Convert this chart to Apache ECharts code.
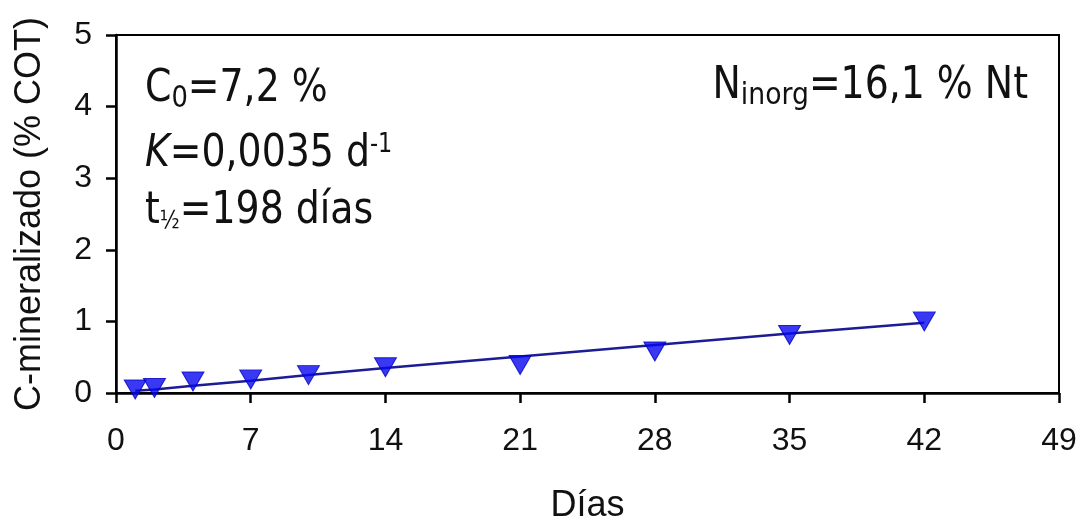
<!DOCTYPE html>
<html>
<head>
<meta charset="utf-8">
<script src="https://cdn.jsdelivr.net/npm/echarts@6/dist/echarts.min.js"></script>
<style>html,body{margin:0;padding:0;background:#fff}#c{width:1081px;height:517px}</style>
</head>
<body>
<div id="c"></div>
<script>
// Data
const days = [1, 2, 4, 7, 10, 14, 21, 28, 35, 42];
const cMineralized = [0.05, 0.07, 0.16, 0.19, 0.25, 0.36, 0.39, 0.58, 0.81, 1.00];
const fitDays = [1, 2, 4, 7, 10, 14, 21, 28, 35, 42];
const fitValues = [0.03, 0.05, 0.10, 0.17, 0.25, 0.35, 0.51, 0.67, 0.83, 0.98];
const xTicks = [0, 7, 14, 21, 28, 35, 42, 49];
const yTicks = [0, 1, 2, 3, 4, 5];

const chart = echarts.init(document.getElementById('c'));
const axisFont = 'Liberation Sans, Arial, sans-serif';
const annFont = 'DejaVu Sans, sans-serif';
const annSize = 44;
const annScaleX = 0.86;

chart.setOption({
  animation: false,
  backgroundColor: '#fff',
  grid: {
    left: 116, right: 22, top: 35, bottom: 124,
    containLabel: false, outerBoundsMode: 'none',
    show: true, borderColor: '#000', borderWidth: 2, backgroundColor: 'transparent'
  },
  xAxis: {
    type: 'value', min: xTicks[0], max: xTicks[xTicks.length - 1], interval: 7,
    name: 'Días', nameLocation: 'middle', nameGap: 95,
    nameTextStyle: { fontFamily: axisFont, fontSize: 36, color: '#111' },
    axisLine: { show: true, lineStyle: { color: '#000', width: 2.5 } },
    axisTick: { show: true, length: 10, inside: false, lineStyle: { color: '#000', width: 2.5 } },
    axisLabel: { margin: 32, fontFamily: axisFont, fontSize: 32, color: '#111' },
    splitLine: { show: false }
  },
  yAxis: {
    type: 'value', min: yTicks[0], max: yTicks[yTicks.length - 1], interval: 1,
    name: 'C-mineralizado (% COT)', nameLocation: 'middle', nameGap: 68,
    nameTextStyle: { fontFamily: axisFont, fontSize: 36, color: '#111' },
    axisLine: { show: true, lineStyle: { color: '#000', width: 2.5 } },
    axisTick: { show: true, length: 10, inside: false, lineStyle: { color: '#000', width: 2.5 } },
    axisLabel: { margin: 24, fontFamily: axisFont, fontSize: 32, color: '#111' },
    splitLine: { show: false }
  },
  series: [
    {
      type: 'line', data: fitDays.map((d, i) => [d, fitValues[i]]),
      showSymbol: false, symbol: 'none',
      lineStyle: { color: '#1c1c95', width: 2.5 }, z: 2
    },
    {
      type: 'scatter', data: days.map((d, i) => [d, cMineralized[i]]),
      symbol: 'triangle', symbolRotate: 180, symbolSize: [22, 19],
      itemStyle: { color: '#0808f0', borderColor: '#0000c0', borderWidth: 1 }, z: 3
    }
  ],
  graphic: [
    {
      type: 'text', x: 145, y: 66, scaleX: annScaleX,
      style: {
        text: '{n|C}{s|0}{n|=7,2 %}',
        rich: {
          n: { fontFamily: annFont, fontSize: annSize, fill: '#111' },
          s: { fontFamily: annFont, fontSize: 30, fill: '#111', verticalAlign: 'bottom', padding: [18, 0, 0, 0] }
        }
      }
    },
    {
      type: 'text', x: 145, y: 132, scaleX: annScaleX,
      style: {
        text: '{i|K}{n|=0,0035 d}{p|-1}',
        rich: {
          i: { fontFamily: annFont, fontSize: annSize, fontStyle: 'italic', fill: '#111' },
          n: { fontFamily: annFont, fontSize: annSize, fill: '#111' },
          p: { fontFamily: annFont, fontSize: 26, fill: '#111', verticalAlign: 'top', padding: [0, 0, 20, 0] }
        }
      }
    },
    {
      type: 'text', x: 145, y: 190, scaleX: annScaleX,
      style: {
        text: '{n|t}{s|½}{n|=198 días}',
        rich: {
          n: { fontFamily: annFont, fontSize: annSize, fill: '#111' },
          s: { fontFamily: annFont, fontSize: 24, fill: '#111', verticalAlign: 'bottom', padding: [20, 0, 0, 0] }
        }
      }
    },
    {
      type: 'text', x: 1028, y: 62, scaleX: annScaleX,
      style: {
        text: '{n|N}{s|inorg}{n|=16,1 % Nt}',
        align: 'right',
        rich: {
          n: { fontFamily: annFont, fontSize: annSize, fill: '#111' },
          s: { fontFamily: annFont, fontSize: 31, fill: '#111', verticalAlign: 'bottom', padding: [18, 0, 0, 0] }
        }
      }
    }
  ]
});
</script>
</body>
</html>
